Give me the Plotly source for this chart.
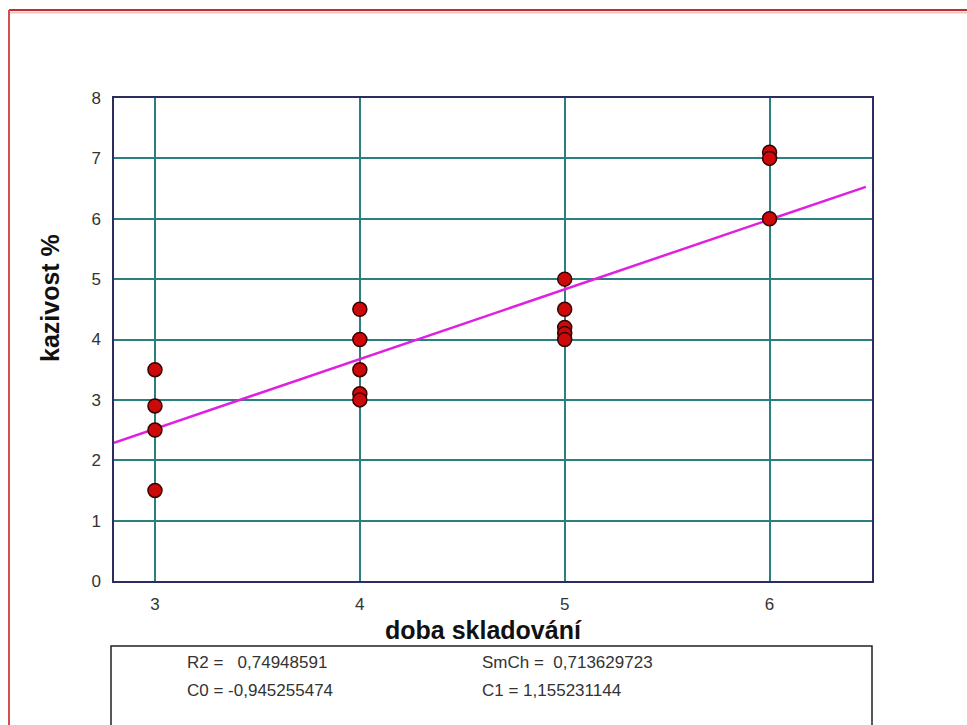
import plotly.graph_objects as go

# Data
x_vals = [3, 3, 3, 3, 4, 4, 4, 4, 4, 5, 5, 5, 5, 5, 6, 6, 6]
y_vals = [3.5, 2.9, 2.5, 1.5, 4.5, 4.0, 3.5, 3.1, 3.0, 5.0, 4.5, 4.2, 4.1, 4.0, 7.1, 7.0, 6.0]
x_ticks = [3, 4, 5, 6]
y_ticks = [0, 1, 2, 3, 4, 5, 6, 7, 8]
C0 = -0.945255474
C1 = 1.155231144
line_x = [2.8, 6.47]
line_y = [C0 + C1 * v for v in line_x]
stats_labels = ["R2 =   0,74948591", "SmCh =  0,713629723", "C0 = -0,945255474", "C1 = 1,155231144"]
x_title = "doba skladování"
y_title = "kazivost %"

W, H = 967, 725
L, R, T, B = 114, 872, 98, 581

def px(xp):
    return (xp - L) / (R - L)

def py(yp):
    return (B - yp) / (B - T)

fig = go.Figure()
fig.add_trace(go.Scatter(x=line_x, y=line_y, mode="lines",
                         line=dict(color="#e020e0", width=2.5), showlegend=False, hoverinfo="skip"))
fig.add_trace(go.Scatter(x=x_vals, y=y_vals, mode="markers",
                         marker=dict(color="#cc0a0a", size=14, line=dict(color="#3a0000", width=1.5)),
                         showlegend=False))

font = "Liberation Sans, Arial, sans-serif"
fig.update_layout(
    width=W, height=H,
    margin=dict(l=L, r=W - R, t=T, b=H - B),
    paper_bgcolor="white", plot_bgcolor="white",
    font=dict(family=font, color="#333333"),
    xaxis=dict(range=[2.8, 6.5], tickvals=x_ticks, ticktext=[str(v) for v in x_ticks],
               showgrid=True, gridcolor="#2a7f7f", gridwidth=1.5,
               showline=True, linecolor="#2c2c5e", linewidth=1.5, mirror=True,
               zeroline=False, ticks="", ticklabelstandoff=7, tickfont=dict(size=17, color="#333333")),
    yaxis=dict(range=[0, 8], tickvals=y_ticks,
               showgrid=True, gridcolor="#2a7f7f", gridwidth=1.5,
               showline=True, linecolor="#2c2c5e", linewidth=1.5, mirror=True,
               zeroline=False, ticks="", ticklabelstandoff=8, tickfont=dict(size=17, color="#333333")),
)

# axis titles
fig.add_annotation(x=px(483), y=py(630), xref="paper", yref="paper", text="<b>" + x_title + "</b>",
                   showarrow=False, xanchor="center", yanchor="middle",
                   font=dict(size=25, color="#111111", family=font))
fig.add_annotation(x=px(50), y=py(298), xref="paper", yref="paper", text="<b>" + y_title + "</b>",
                   showarrow=False, xanchor="center", yanchor="middle", textangle=-90,
                   font=dict(size=25, color="#111111", family=font))

# outer red frame (top and left)
fig.add_shape(type="line", xref="paper", yref="paper", x0=px(9), x1=px(W + 5), y0=py(10), y1=py(10),
              line=dict(color="#b83232", width=2))
fig.add_shape(type="line", xref="paper", yref="paper", x0=px(9), x1=px(W + 5), y0=py(12.5), y1=py(12.5),
              line=dict(color="#f3c0c0", width=2))
fig.add_shape(type="line", xref="paper", yref="paper", x0=px(9), x1=px(9), y0=py(10), y1=py(H + 5),
              line=dict(color="#d05050", width=2))

# statistics box
fig.add_shape(type="rect", xref="paper", yref="paper", x0=px(111), x1=px(872), y0=py(646), y1=py(H + 10),
              line=dict(color="#222222", width=1.5))

positions = [(185, 662), (480, 662), (185, 690), (480, 690)]
for txt, (xx, yy) in zip(stats_labels, positions):
    fig.add_annotation(x=px(xx), y=py(yy), xref="paper", yref="paper", text=txt, showarrow=False,
                       xanchor="left", yanchor="middle", font=dict(size=17, color="#333333", family=font))

fig.write_html("out.html")
